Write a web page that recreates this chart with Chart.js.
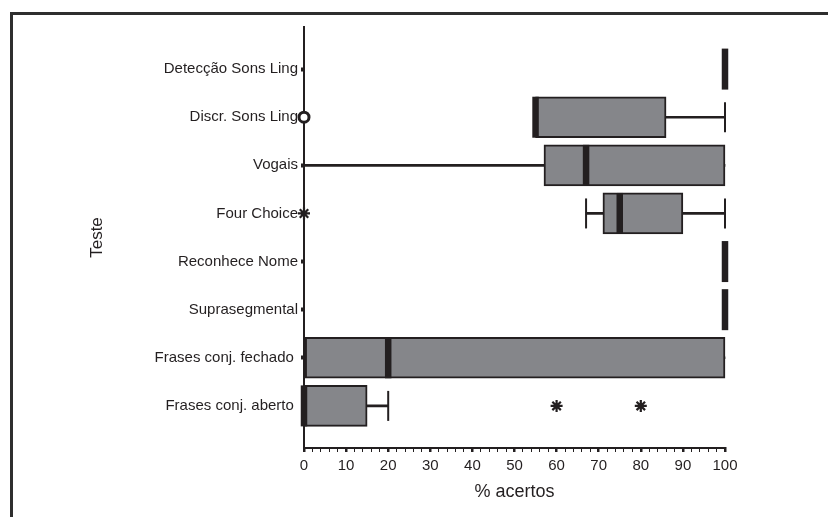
<!DOCTYPE html>
<html>
<head>
<meta charset="utf-8">
<script src="https://cdn.jsdelivr.net/npm/chart.js@4/dist/chart.umd.min.js"></script>
<style>
  html, body { margin: 0; padding: 0; background: #fff; overflow: hidden; }
  #wrap { position: relative; width: 828px; height: 517px; }
  #frame { position: absolute; left: 10px; top: 12px; width: 840px; height: 530px;
           border-top: 3px solid #2e2e2e; border-left: 3px solid #2e2e2e; box-sizing: border-box; }
  #c { position: absolute; left: 0; top: 0; }
</style>
</head>
<body>
<div id="wrap">
  <div id="frame"></div>
  <canvas id="c" width="828" height="517"></canvas>
</div>
<script>
const categories = ['Detecção Sons Ling', 'Discr. Sons Ling', 'Vogais', 'Four Choice',
                    'Reconhece Nome', 'Suprasegmental', 'Frases conj. fechado ', 'Frases conj. aberto '];
const whiskerMin = [100, 55, 0, 67, 100, 100, 0, 0];
const q1 =         [100, 55, 57, 71, 100, 100, 0, 0];
const median =     [100, 55, 67, 75, 100, 100, 20, 0];
const q3 =         [100, 86, 100, 90, 100, 100, 100, 15];
const whiskerMax = [100, 100, 100, 100, 100, 100, 100, 20];
const circleOutlierCat = [1];
const circleOutlierVal = [0];
const starOutlierCat = [3, 7, 7];
const starOutlierVal = [0, 60, 80];
const xTickStep = 2;
const xLabelStep = 10;

const ink = '#231f20';
const boxFill = '#85868a';

const boxData = [], whiskerData = [], capData = [], medianData = [];
categories.forEach((c, i) => {
  if (q3[i] > q1[i]) boxData.push({ y: i, x: [q1[i], q3[i]] });
  if (whiskerMax[i] > whiskerMin[i]) whiskerData.push({ y: i, x: [whiskerMin[i], whiskerMax[i]] });
  if (whiskerMin[i] < q1[i]) capData.push({ y: i, x: whiskerMin[i] });
  if (whiskerMax[i] > q3[i]) capData.push({ y: i, x: whiskerMax[i] });
  medianData.push({ y: i, x: median[i] });
});
const circleData = circleOutlierCat.map((c, k) => ({ y: c, x: circleOutlierVal[k] }));
const starData = starOutlierCat.map((c, k) => ({ y: c, x: starOutlierVal[k] }));

const fontFam = '"Liberation Sans", Arial, Helvetica, sans-serif';

new Chart(document.getElementById('c'), {
  type: 'bar',
  data: {
    datasets: [
      { label: 'whisker', data: whiskerData, backgroundColor: ink, borderWidth: 0,
        barThickness: 2, grouped: false, order: 5, clip: false },
      { label: 'box', data: boxData, backgroundColor: boxFill, borderColor: ink, borderWidth: 2,
        borderSkipped: false, barThickness: 41, grouped: false, order: 4, clip: false },
      { type: 'scatter', label: 'caps', data: capData, pointStyle: 'line', rotation: 90,
        radius: 15, borderColor: ink, borderWidth: 2, order: 3, clip: false },
      { type: 'scatter', label: 'median', data: medianData, pointStyle: 'line', rotation: 90,
        radius: 20.5, borderColor: ink, borderWidth: 6.5, order: 2, clip: false },
      { type: 'scatter', label: 'circle', data: circleData, pointStyle: 'circle',
        radius: 5, borderColor: ink, borderWidth: 3, backgroundColor: '#fff', order: 1, clip: false },
      { type: 'scatter', label: 'star', data: starData, pointStyle: 'star',
        radius: 6, borderColor: ink, borderWidth: 2.2, order: 0, clip: false }
    ]
  },
  options: {
    indexAxis: 'y',
    responsive: false,
    animation: false,
    devicePixelRatio: 1,
    layout: { padding: { left: 83, top: 24, right: 103, bottom: 0 } },
    plugins: { legend: { display: false }, tooltip: { enabled: false } },
    elements: { point: { hoverRadius: 0 } },
    scales: {
      x: {
        type: 'linear', min: 0, max: 100, offset: false,
        border: { color: ink, width: 2 },
        grid: {
          offset: false, drawOnChartArea: false, drawTicks: true, tickLength: 4, tickColor: ink,
          lineWidth: (ctx) => (ctx.tick && ctx.tick.value % xLabelStep === 0 ? 2.5 : 1)
        },
        ticks: {
          stepSize: xTickStep, autoSkip: false, maxRotation: 0, padding: 5,
          color: ink, font: { family: fontFam, size: 15 },
          callback: (v) => (v % xLabelStep === 0 ? String(v) : '')
        },
        title: { display: true, text: '% acertos', color: ink,
                 font: { family: fontFam, size: 18 }, padding: { top: 4, bottom: 14 } },
        afterFit: (s) => { s.height = 517 - 448; }
      },
      y: {
        type: 'linear', reverse: true, min: -0.875, max: 7.875, offset: false,
        afterBuildTicks: (s) => { s.ticks = categories.map((_, i) => ({ value: i })); },
        border: { color: ink, width: 2 },
        grid: { offset: false, drawOnChartArea: false, drawTicks: true, tickLength: 3, tickWidth: 4, tickColor: ink },
        ticks: {
          autoSkip: false, padding: 3, color: ink, font: { family: fontFam, size: 15 },
          callback: (v) => categories[v] !== undefined ? categories[v] : ''
        },
        title: { display: true, text: 'Teste', color: ink,
                 font: { family: fontFam, size: 17 }, padding: { top: 4, bottom: 4 } },
        afterFit: (s) => { s.width = 304 - 83; }
      }
    }
  }
});
</script>
</body>
</html>
